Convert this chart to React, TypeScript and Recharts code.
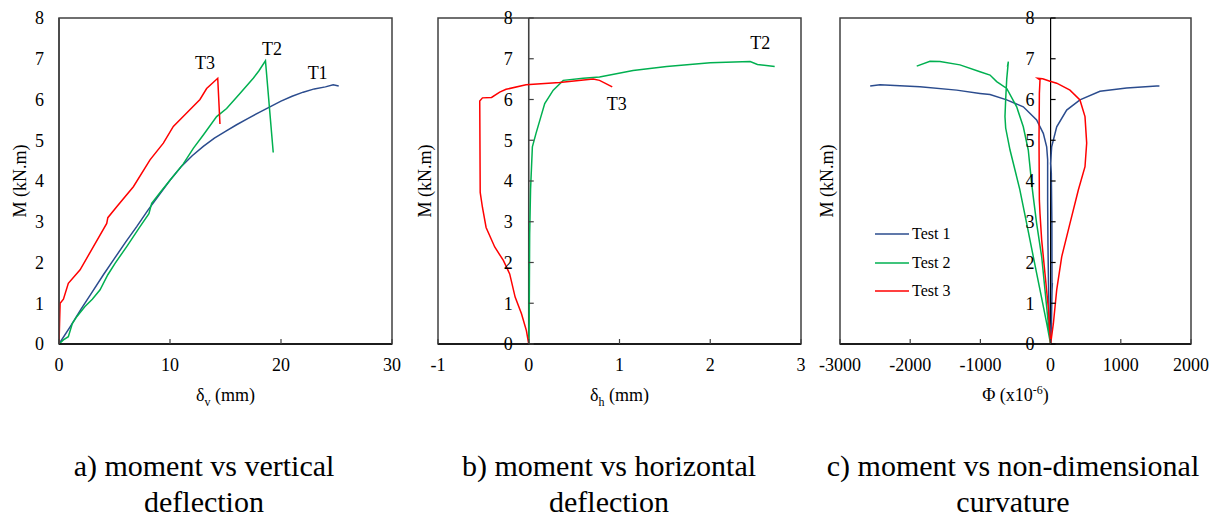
import React from "react";
import {
  LineChart,
  Line,
  XAxis,
  YAxis,
  ReferenceArea,
  ReferenceLine,
  ReferenceDot,
  Legend,
} from "recharts";

const FONT = '"Times New Roman", "Liberation Serif", serif';
const BLUE = "#2b4c8e";
const GREEN = "#00b050";
const RED = "#ff0000";
const FRAME = "#404040";

// a) moment vs vertical deflection  [δv (mm), M (kN.m)]
const vertT1 = [
  [0, 0], [1, 0.42], [2, 0.86], [3, 1.28], [4, 1.7], [5, 2.1], [6, 2.5], [7, 2.88], [8, 3.28],
  [9, 3.65], [10, 4.02], [11, 4.35], [12, 4.62], [13, 4.85], [14, 5.05], [15, 5.22], [16, 5.38],
  [17, 5.53], [18, 5.68], [19, 5.82], [20, 5.96], [21, 6.08], [22, 6.18], [23, 6.26], [24, 6.31],
  [24.7, 6.36], [25.2, 6.33],
];
const vertT2 = [
  [0, 0], [0.4, 0.1], [0.84, 0.18], [1.2, 0.5], [1.6, 0.67], [2.34, 0.92], [3, 1.1], [3.7, 1.33],
  [4.4, 1.7], [5.05, 1.98], [6.1, 2.39], [7.3, 2.88], [8.1, 3.2], [8.35, 3.45], [9.2, 3.75],
  [10, 4.02], [11.2, 4.42], [12.1, 4.8], [13, 5.13], [14.2, 5.58], [15.1, 5.78], [16.3, 6.15],
  [17.5, 6.52], [18, 6.7], [18.6, 6.95], [19.3, 4.7],
];
const vertT3 = [
  [0, 0], [0.05, 0.5], [0.1, 1.0], [0.4, 1.1], [0.84, 1.49], [1.9, 1.82], [3.1, 2.39], [4.3, 2.96],
  [4.4, 3.1], [5.2, 3.37], [6.7, 3.86], [8.2, 4.52], [9.4, 4.93], [10.3, 5.34], [11.5, 5.67],
  [12.7, 6.0], [13.3, 6.27], [14.3, 6.52], [14.5, 5.4],
];

// b) moment vs horizontal deflection  [δh (mm), M (kN.m)]
const horzT2 = [
  [0, 0], [0.005, 0.57], [0.01, 2.7], [0.02, 3.8], [0.04, 4.84], [0.08, 5.17], [0.13, 5.55],
  [0.176, 5.9], [0.27, 6.23], [0.38, 6.47], [0.6, 6.52], [0.78, 6.55], [1.15, 6.71], [1.52, 6.81],
  [2.0, 6.9], [2.44, 6.93], [2.52, 6.86], [2.71, 6.81],
];
const horzT3 = [
  [0, 0], [-0.026, 0.33], [-0.08, 0.74], [-0.15, 1.15], [-0.21, 1.72], [-0.28, 2.05],
  [-0.375, 2.38], [-0.47, 2.86], [-0.51, 3.35], [-0.535, 3.72], [-0.54, 5.96], [-0.51, 6.04],
  [-0.41, 6.05], [-0.32, 6.18], [-0.25, 6.25], [-0.03, 6.36], [0.34, 6.42], [0.71, 6.5],
  [0.78, 6.47], [0.92, 6.31],
];

// c) moment vs non-dimensional curvature  [Φ (x10^-6), M (kN.m)]
const curvT1 = [
  [-2570, 6.33], [-2430, 6.36], [-1861, 6.31], [-1338, 6.23], [-1006, 6.15], [-863, 6.12],
  [-625, 5.99], [-389, 5.82], [-199, 5.5], [-104, 5.17], [-56, 4.84], [-42, 4.52], [-42, 3.5],
  [-38, 2.5], [-30, 1.5], [-20, 0.6], [0, 0], [12, 0.5], [20, 1.3], [25, 1.5], [20, 1.3],
  [18, 3.0], [10, 4.2], [0, 4.43], [15, 4.84], [87, 5.33], [229, 5.74], [418, 5.99], [703, 6.2],
  [1083, 6.28], [1511, 6.33], [1550, 6.33],
];
const curvT2 = [
  [-1907, 6.82], [-1718, 6.94], [-1576, 6.93], [-1291, 6.85], [-1006, 6.68], [-863, 6.6],
  [-768, 6.44], [-625, 6.27], [-483, 5.82], [-389, 5.33], [-318, 4.76], [-270, 3.94],
  [-246, 3.6], [-199, 2.96], [-127, 2.14], [-80, 1.33], [-33, 0.51], [0, 0], [-56, 0.51],
  [-151, 1.33], [-246, 2.14], [-341, 2.96], [-440, 3.8], [-578, 4.76], [-640, 5.3], [-650, 5.58],
  [-640, 6.0], [-625, 6.5], [-602, 6.93], [-615, 6.8],
];
const curvT3 = [
  [0, 0], [40, 0.51], [87, 1.33], [158, 2.14], [276, 2.96], [395, 3.78], [490, 4.35],
  [514, 4.93], [490, 5.58], [418, 5.99], [276, 6.23], [87, 6.4], [-9, 6.45], [-113, 6.51],
  [-185, 6.52], [-151, 6.48], [-160, 6.15], [-165, 5.0], [-160, 3.53], [-151, 3.2],
  [-127, 2.55], [-80, 1.73], [-33, 0.9], [0, 0],
];

const momentTicks = [0, 1, 2, 3, 4, 5, 6, 7, 8];
const vertTicks = [0, 10, 20, 30];
const horzTicks = [-1, 0, 1, 2, 3];
const curvTicks = [-3000, -2000, -1000, 0, 1000, 2000];

const vertNotes = [
  { text: "T3", x: 13.15, y: 6.9 },
  { text: "T2", x: 19.2, y: 7.24 },
  { text: "T1", x: 23.3, y: 6.67 },
];
const horzNotes = [
  { text: "T2", x: 2.55, y: 7.39 },
  { text: "T3", x: 0.97, y: 5.89 },
];

const toPts = (arr: number[][]) => arr.map(([x, y]) => ({ x, y }));

type Series = { name: string; color: string; pts: number[][] };
type Note = { text: string; x: number; y: number };

const tickStyle = { fill: "#000", fontSize: 18, fontFamily: FONT };

function ZeroTick(props: any) {
  const { x, y, payload, shift, color } = props;
  const axisX = x + 16 + shift;
  return (
    <g>
      <line x1={axisX} x2={axisX + 5} y1={y} y2={y} stroke={color} strokeWidth={1.2} />
      <text x={x + shift} y={y} dy="0.355em" textAnchor="end" {...tickStyle}>
        {payload.value}
      </text>
    </g>
  );
}

function LegendBox(props: any) {
  const items = props.payload || [];
  return (
    <div style={{ fontFamily: FONT, fontSize: 16, color: "#000" }}>
      {items.map((it: any) => (
        <div key={it.value} style={{ display: "flex", alignItems: "center", height: 28.5 }}>
          <svg width={34} height={4}>
            <line x1={0} x2={34} y1={2} y2={2} stroke={it.color} strokeWidth={1.5} />
          </svg>
          <span style={{ marginLeft: 3 }}>{it.value}</span>
        </div>
      ))}
    </div>
  );
}

function Panel(props: {
  left: number;
  width: number;
  padLeft: number;
  yAxisWidth: number;
  padRight: number;
  xDomain: [number, number];
  xTicks: number[];
  series: Series[];
  notes?: Note[];
  zeroAxis?: string;
  xLabel: (cx: number, y: number) => React.ReactNode;
  yLabelGap: number;
  legend?: boolean;
}) {
  const { left, width, padLeft, yAxisWidth, padRight, xDomain, xTicks, series, notes, zeroAxis, xLabel, yLabelGap, legend } = props;
  const plotW = width - padLeft - yAxisWidth - padRight;
  const shift = (plotW * (0 - xDomain[0])) / (xDomain[1] - xDomain[0]);
  return (
    <div style={{ position: "absolute", left, top: 0 }}>
      <LineChart width={width} height={420} margin={{ top: 18, right: padRight, bottom: 46, left: padLeft }}>
        <XAxis
          type="number"
          dataKey="x"
          domain={xDomain}
          ticks={xTicks}
          allowDataOverflow
          tick={tickStyle}
          tickSize={-5}
          tickMargin={19}
          tickLine={{ stroke: FRAME, strokeWidth: 1.2 }}
          axisLine={{ stroke: "#000", strokeWidth: 1.5 }}
          label={{
            content: (p: any) => xLabel(p.viewBox.x + p.viewBox.width / 2, p.viewBox.y + 57),
          }}
        />
        <YAxis
          type="number"
          dataKey="y"
          domain={[0, 8]}
          ticks={momentTicks}
          width={yAxisWidth}
          allowDataOverflow
          axisLine={zeroAxis ? false : { stroke: FRAME, strokeWidth: 1.5 }}
          tickLine={false}
          tickSize={0}
          tickMargin={zeroAxis ? 16 : 15}
          tick={zeroAxis ? (p: any) => <ZeroTick {...p} shift={shift} color={zeroAxis} /> : tickStyle}
          label={{
            content: (p: any) => {
              const cx = p.viewBox.x + p.viewBox.width - yLabelGap;
              const cy = p.viewBox.y + p.viewBox.height / 2;
              return (
                <text
                  x={cx}
                  y={cy}
                  dy="0.35em"
                  textAnchor="middle"
                  transform={`rotate(-90 ${cx} ${cy})`}
                  fill="#000"
                  fontSize={18}
                  fontFamily={FONT}
                >
                  M (kN.m)
                </text>
              );
            },
          }}
        />
        <ReferenceArea
          x1={xDomain[0]}
          x2={xDomain[1]}
          y1={0}
          y2={8}
          fill="none"
          fillOpacity={0}
          stroke={FRAME}
          strokeWidth={1.5}
        />
        {zeroAxis && <ReferenceLine x={0} stroke={zeroAxis} strokeWidth={zeroAxis === "#000" ? 1.2 : 1.6} />}
        {series.map((s) => (
          <Line
            key={s.name}
            name={s.name}
            data={toPts(s.pts)}
            dataKey="y"
            type="linear"
            stroke={s.color}
            strokeWidth={1.5}
            dot={false}
            activeDot={false}
            isAnimationActive={false}
          />
        ))}
        {(notes || []).map((n) => (
          <ReferenceDot
            key={n.text}
            x={n.x}
            y={n.y}
            r={1}
            fill="none"
            stroke="none"
            label={{ value: n.text, position: "center", fill: "#000", fontSize: 18, fontFamily: FONT }}
          />
        ))}
        {legend && (
          <Legend
            layout="vertical"
            align="center"
            verticalAlign="middle"
            wrapperStyle={{ left: 60, top: 220, width: 120 }}
            content={(p: any) => <LegendBox {...p} />}
          />
        )}
      </LineChart>
    </div>
  );
}

const captionStyle: React.CSSProperties = {
  position: "absolute",
  top: 448,
  width: 420,
  textAlign: "center",
  fontFamily: FONT,
  fontSize: 30,
  lineHeight: "36px",
  color: "#000",
};

export default function App() {
  return (
    <div style={{ position: "absolute", left: 0, top: 0, width: 1222, height: 520, background: "#fff" }}>
      <Panel
        left={0}
        width={410}
        padLeft={14}
        yAxisWidth={45}
        padRight={18}
        xDomain={[0, 30]}
        xTicks={vertTicks}
        series={[
          { name: "Test 1", color: BLUE, pts: vertT1 },
          { name: "Test 2", color: GREEN, pts: vertT2 },
          { name: "Test 3", color: RED, pts: vertT3 },
        ]}
        notes={vertNotes}
        yLabelGap={39}
        xLabel={(cx, y) => (
          <text x={cx} y={y} textAnchor="middle" fill="#000" fontSize={18} fontFamily={FONT}>
            δ<tspan fontSize={12} dy={5}>v</tspan>
            <tspan dy={-5}> (mm)</tspan>
          </text>
        )}
      />
      <Panel
        left={410}
        width={410}
        padLeft={8}
        yAxisWidth={20}
        padRight={19}
        xDomain={[-1, 3]}
        xTicks={horzTicks}
        zeroAxis={FRAME}
        series={[
          { name: "Test 2", color: GREEN, pts: horzT2 },
          { name: "Test 3", color: RED, pts: horzT3 },
        ]}
        notes={horzNotes}
        yLabelGap={13}
        xLabel={(cx, y) => (
          <text x={cx} y={y} textAnchor="middle" fill="#000" fontSize={18} fontFamily={FONT}>
            δ<tspan fontSize={12} dy={5}>h</tspan>
            <tspan dy={-5}> (mm)</tspan>
          </text>
        )}
      />
      <Panel
        left={815}
        width={400}
        padLeft={5}
        yAxisWidth={20}
        padRight={24}
        xDomain={[-3000, 2000]}
        xTicks={curvTicks}
        zeroAxis="#000"
        legend
        series={[
          { name: "Test 1", color: BLUE, pts: curvT1 },
          { name: "Test 2", color: GREEN, pts: curvT2 },
          { name: "Test 3", color: RED, pts: curvT3 },
        ]}
        yLabelGap={13}
        xLabel={(cx, y) => (
          <text x={cx} y={y} textAnchor="middle" fill="#000" fontSize={18} fontFamily={FONT}>
            Φ (x10<tspan fontSize={12} dy={-7}>-6</tspan>
            <tspan dy={7}>)</tspan>
          </text>
        )}
      />
      <div style={{ ...captionStyle, left: -6 }}>
        a) moment vs vertical
        <br />
        deflection
      </div>
      <div style={{ ...captionStyle, left: 399 }}>
        b) moment vs horizontal
        <br />
        deflection
      </div>
      <div style={{ ...captionStyle, left: 803 }}>
        c) moment vs non-dimensional
        <br />
        curvature
      </div>
    </div>
  );
}
